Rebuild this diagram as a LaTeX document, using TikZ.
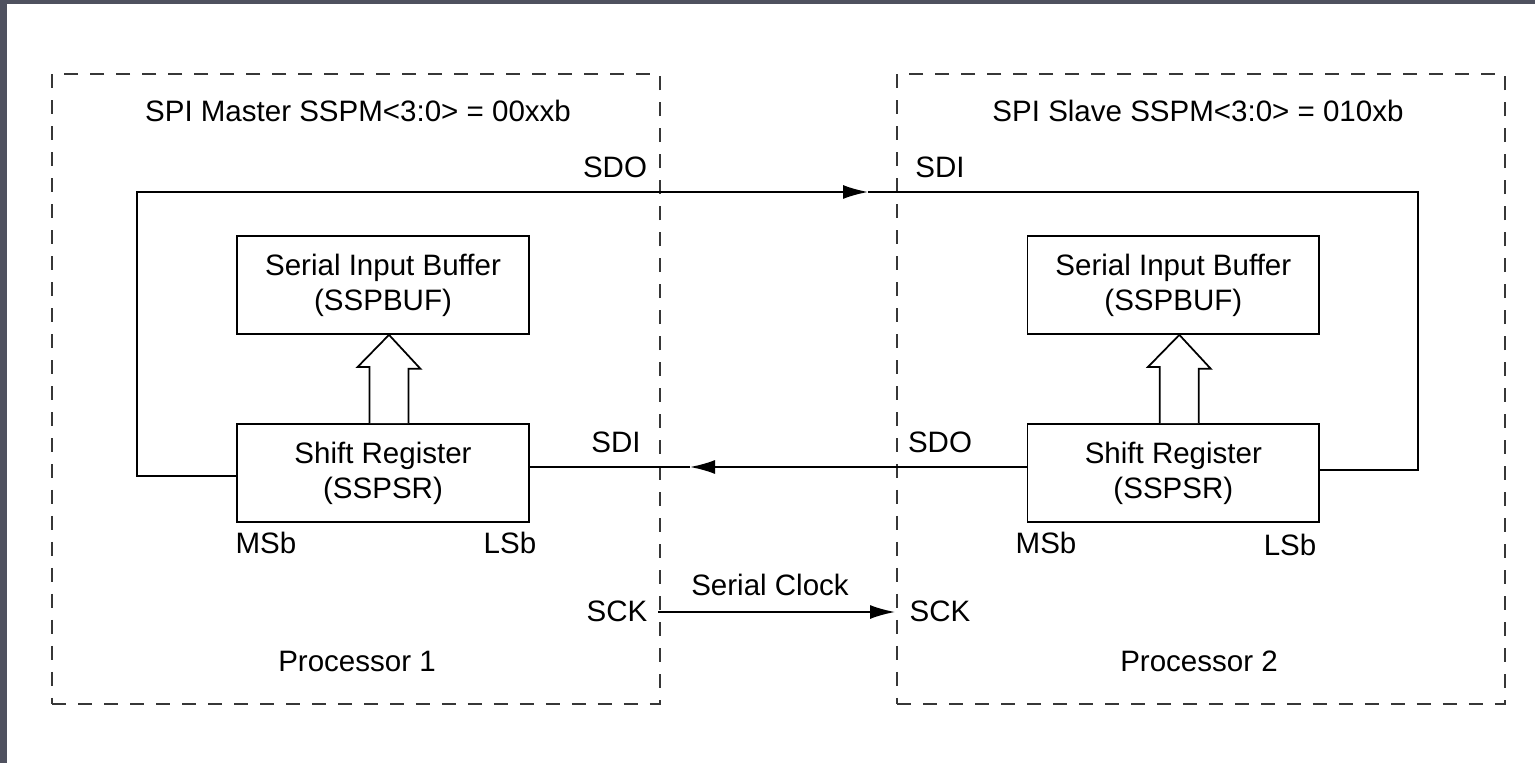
\documentclass[tikz,border=0pt]{standalone}
\usepackage{fontspec}
\setmainfont{Liberation Sans}
\usetikzlibrary{arrows.meta}
\usetikzlibrary{calc}
\definecolor{framegray}{RGB}{79,81,95}
\definecolor{dashgray}{RGB}{55,55,55}
\tikzset{
frame/.style = {draw=dashgray, line width=0.05cm, dash pattern=on 0.28cm off 0.24cm, minimum width=12.16cm, minimum height=12.6cm},
register/.style = {rectangle, draw, line width=0.035cm, minimum width=5.84cm, minimum height=1.96cm, align=center, inner sep=0pt},
wire/.style = {draw, line width=0.035cm},
arrowwire/.style = {wire, -{Latex[length=0.5cm,width=0.28cm]}},
hollow/.style = {draw, line width=0.035cm, fill=white},
coord/.style = {coordinate}
}

\begin{document}
\begin{tikzpicture}[x=0.02cm, y=-0.02cm, node distance=3.76cm, font=\fontsize{16.8}{20}\selectfont]
    \fill [framegray] (0,0) rectangle (1535,763);
    \fill [white] (7,4) rectangle (1535,763);
    \useasboundingbox (0,0) rectangle (1535,763);

    \node [frame] (procA) at (356,389) {};
    \node [frame] (procB) at (1201,389) {};

    \node [register] (bufA) at (383,285) {Serial Input Buffer\\(SSPBUF)};
    \node [register, below of=bufA] (shiftA) {Shift Register\\(SSPSR)};
    \node [register, right of=bufA, node distance=15.81cm] (bufB) {Serial Input Buffer\\(SSPBUF)};
    \node [register, below of=bufB] (shiftB) {Shift Register\\(SSPSR)};

    \node (titleA) at (358,111) {SPI Master SSPM<3:0> = 00xxb};
    \node (titleB) at (1198,111) {SPI Slave SSPM<3:0> = 010xb};
    \node (nameA) at (357,661) {Processor 1};
    \node (nameB) at (1199,661) {Processor 2};
    \node (sdoA) at (615,167) {SDO};
    \node (sdiB) at (940,167) {SDI};
    \node (sdiA) at (616,442) {SDI};
    \node (sdoB) at (940,442) {SDO};
    \node (msbA) at (266,543) {MSb};
    \node (lsbA) at (510,543) {LSb};
    \node (msbB) at (1046,543) {MSb};
    \node (lsbB) at (1290,545) {LSb};
    \node (sckA) at (617,611) {SCK};
    \node (sckB) at (940,611) {SCK};
    \node (clock) at (770,585) {Serial Clock};

    \node [coord] (topA) at (137,192) {};
    \node [coord] (topB) at (1418,192) {};
    \node [coord] (tipTop) at (868,192) {};
    \node [coord] (tipMid) at (690,467) {};
    \node [coord] (clkA) at (658,612) {};
    \node [coord] (clkB) at (895,612) {};

    % master SDO -> slave SDI
    \path [arrowwire] ([yshift=-0.06cm]shiftA.west) -| (topA) -- (tipTop);
    \path [wire] (tipTop) -- (topB) |- ([yshift=0.06cm]shiftB.east);
    % slave SDO -> master SDI
    \path [arrowwire] (shiftB.west |- tipMid) -- (tipMid);
    \path [wire] (tipMid) -- (shiftA.east |- tipMid);
    % clock
    \path [arrowwire] (clkA) -- (clkB);

    \draw [hollow] ($(shiftA.north)+(-13.5,0)$) -- ++(0,-56) -- ++(-12,0) -- ($(bufA.south)+(6,0)$) -- ++(31.5,34) -- ++(-12,0) -- ($(shiftA.north)+(25.5,0)$);
    \draw [hollow] ($(shiftB.north)+(-13.5,0)$) -- ++(0,-56) -- ++(-12,0) -- ($(bufB.south)+(6,0)$) -- ++(31.5,34) -- ++(-12,0) -- ($(shiftB.north)+(25.5,0)$);
\end{tikzpicture}
\end{document}
